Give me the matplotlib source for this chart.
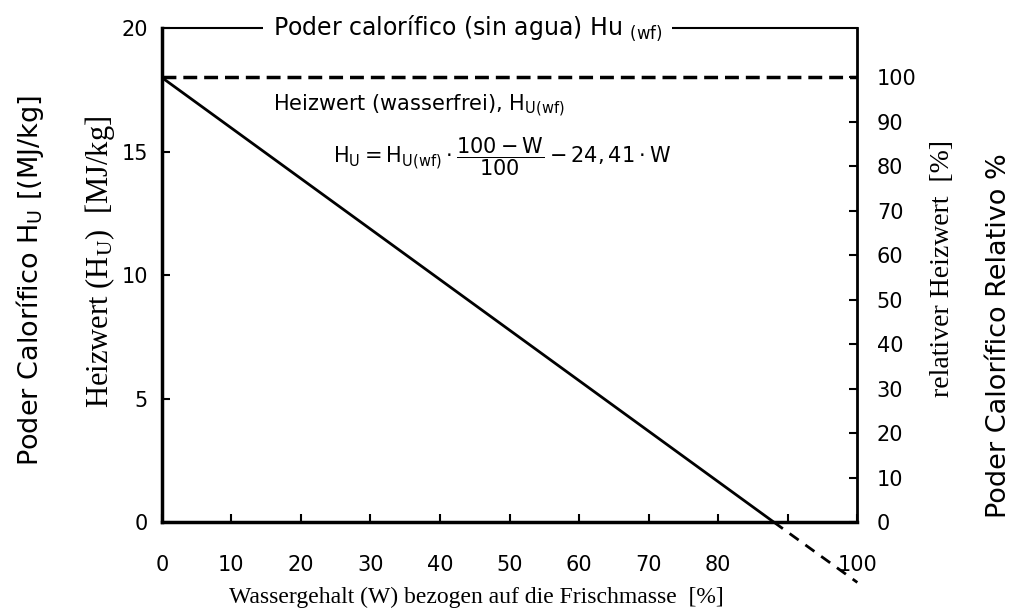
import numpy as np
import matplotlib
matplotlib.use("Agg")
import matplotlib.pyplot as plt

# data
wasser = [0, 88]                 # Wassergehalt W [%]
heizwert = [18, 0]               # H_U [MJ/kg]
wasser_ext = [88, 100]           # dashed continuation below zero
heizwert_ext = [0, -2.44]
hu_wf = 18                       # wasserfrei -> 100 %
x_ticks = [0, 10, 20, 30, 40, 50, 60, 70, 80, 90, 100]
x_labels = ['0', '10', '20', '30', '40', '50', '60', '70', '80', '', '100']
y_ticks = [0, 5, 10, 15, 20]
rel_ticks = [0, 10, 20, 30, 40, 50, 60, 70, 80, 90, 100]

sans = ['DejaVu Sans']
serif = ['Liberation Serif', 'DejaVu Serif']

fig = plt.figure(figsize=(10.11, 6.10), dpi=100)
ax = fig.add_axes([0.160, 0.144, 0.688, 0.810])

ax.plot(wasser, heizwert, color='black', lw=2)
ax.plot(wasser_ext, heizwert_ext, color='black', lw=2, ls=(0, (4, 3)), clip_on=False)
ax.axhline(hu_wf, color='black', lw=2.5, ls=(0, (4, 2)))

ax.set_xlim(0, 100)
ax.set_ylim(0, 20)
ax.set_xticks(x_ticks)
ax.set_xticklabels(x_labels, fontfamily=sans, fontsize=15)
ax.set_yticks(y_ticks)
ax.set_yticklabels([str(v) for v in y_ticks], fontfamily=sans, fontsize=15)
ax.tick_params(axis='x', direction='in', length=6, width=1.5, pad=24)
ax.tick_params(axis='y', direction='in', length=6, width=1.5, pad=10)

ax.spines['left'].set_linewidth(2.5)
ax.spines['bottom'].set_linewidth(2.5)
ax.spines['right'].set_linewidth(2)
ax.spines['top'].set_linewidth(1.5)

ax2 = ax.twinx()
ax2.set_ylim(0, 20 / hu_wf * 100)
ax2.set_yticks(rel_ticks)
ax2.set_yticklabels([str(v) for v in rel_ticks], fontfamily=sans, fontsize=15)
ax2.tick_params(axis='y', direction='in', length=6, width=1.5, pad=14)
for s in ax2.spines.values():
    s.set_visible(False)

# titles / labels
ax.text(0.44, 1.0, r'Poder calorífico (sin agua) Hu $_{(\mathrm{wf})}$', transform=ax.transAxes,
        ha='center', va='center', fontsize=17, fontfamily=sans,
        bbox=dict(facecolor='white', edgecolor='none', pad=7))
ax.text(16, 16.85, r'Heizwert (wasserfrei), H$_{\mathrm{U(wf)}}$', fontsize=15, fontfamily=sans,
        va='center')
ax.text(49, 14.8, r'$\mathrm{H_U = H_{U(wf)} \cdot \dfrac{100-W}{100} - 24,41 \cdot W}$',
        fontsize=15, ha='center', va='center')

ax.set_xlabel('Wassergehalt (W) bezogen auf die Frischmasse  [%]', fontsize=17,
              fontfamily=serif)
ax.xaxis.set_label_coords(0.452, -0.13)

fig.text(0.099, 0.57, r'Heizwert (H$_\mathrm{U}$)  [MJ/kg]', rotation=90, fontsize=22,
         fontfamily=serif, ha='center', va='center', math_fontfamily='stix')
fig.text(0.030, 0.54, r'Poder Calorífico H$_\mathrm{U}$ [(MJ/kg]', rotation=90, fontsize=19.5,
         fontfamily=sans, ha='center', va='center')
fig.text(0.932, 0.56, 'relativer Heizwert  [%]', rotation=90, fontsize=20,
         fontfamily=serif, ha='center', va='center')
fig.text(0.988, 0.45, 'Poder Calorífico Relativo %', rotation=90, fontsize=19.5,
         fontfamily=sans, ha='center', va='center')

fig.savefig('out.png', dpi=100)
